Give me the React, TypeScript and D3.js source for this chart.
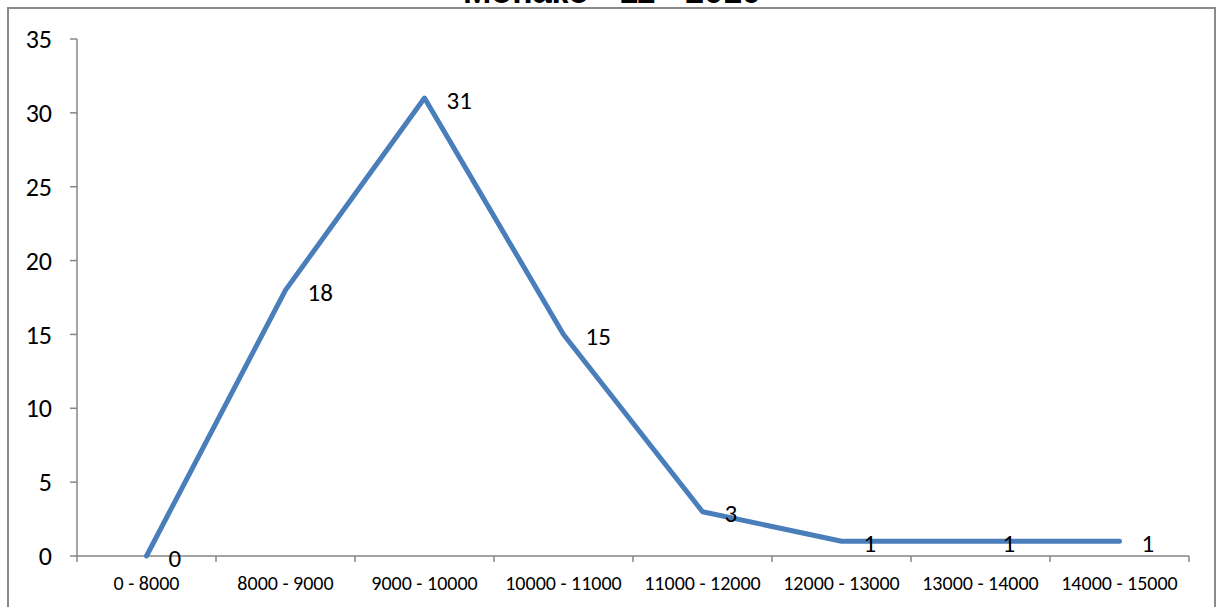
import React from "react";
import * as d3 from "d3";

const categories = ["0 - 8000", "8000 - 9000", "9000 - 10000", "10000 - 11000", "11000 - 12000", "12000 - 13000", "13000 - 14000", "14000 - 15000"];
const values = [0, 18, 31, 15, 3, 1, 1, 1];
const yTicks = [0, 5, 10, 15, 20, 25, 30, 35];
const title = "Монако - 11 - 2010";

export default function App() {
  const W = 1218, H = 607;
  const left = 77, right = 1189, top = 39, bottom = 556;
  const x = d3.scaleBand<string>().domain(categories).range([left, right]);
  const y = d3.scaleLinear().domain([0, 35]).range([bottom, top]);
  const line = d3.line<number>()
    .x((_, i) => (x(categories[i]) as number) + x.bandwidth() / 2)
    .y((d) => y(d));
  const axisColor = "#868686";
  const font = "Calibri, Carlito, 'Open Sans', 'Liberation Sans', sans-serif";
  return (
    <svg width={W} height={H} style={{ display: "block", position: "absolute", left: 0, top: 0 }} fontFamily={font}>
      <rect x={0} y={0} width={W} height={H} fill="#fff" />
      <rect x={8} y={8} width={1207} height={620} fill="none" stroke="#8a8a8a" strokeWidth={2} />
      <text x={612} y={3} textAnchor="middle" fontWeight="bold" fontSize={34} fontFamily="'Liberation Sans', Arial, sans-serif">{title}</text>
      {/* y axis */}
      <line x1={left} x2={left} y1={top} y2={bottom} stroke={axisColor} strokeWidth={1.5} />
      {yTicks.map((t) => (
        <g key={t}>
          <line x1={left - 7} x2={left} y1={y(t)} y2={y(t)} stroke={axisColor} strokeWidth={1.5} />
          <text x={52} y={y(t)} dy="0.35em" textAnchor="end" fontSize={26} fill="#000">{t}</text>
        </g>
      ))}
      {/* x axis */}
      <line x1={left} x2={right} y1={bottom} y2={bottom} stroke={axisColor} strokeWidth={1.5} />
      {categories.map((c, i) => (
        <line key={"t" + i} x1={x(c) as number} x2={x(c) as number} y1={bottom} y2={bottom + 6} stroke={axisColor} strokeWidth={1.5} />
      ))}
      <line x1={right} x2={right} y1={bottom} y2={bottom + 6} stroke={axisColor} strokeWidth={1.5} />
      {categories.map((c) => (
        <text key={c} x={(x(c) as number) + x.bandwidth() / 2} y={583} dy="0.35em" textAnchor="middle" fontSize={20} fill="#000">{c}</text>
      ))}
      <path d={line(values) || ""} fill="none" stroke="#4A7EBB" strokeWidth={5} strokeLinejoin="round" strokeLinecap="round" />
      {values.map((v, i) => (
        <text key={"l" + i} x={(x(categories[i]) as number) + x.bandwidth() / 2 + 22} y={y(v) + 2} dy="0.35em" textAnchor="start" fontSize={25} fill="#000">{v}</text>
      ))}
    </svg>
  );
}
